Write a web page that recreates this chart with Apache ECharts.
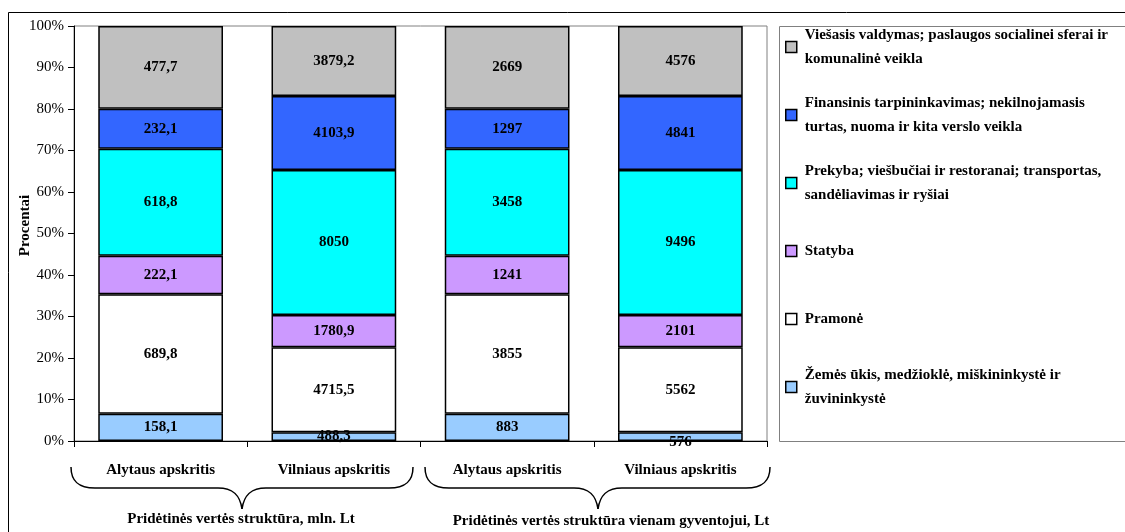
<!DOCTYPE html>
<html><head><meta charset="utf-8">
<script src="https://cdn.jsdelivr.net/npm/echarts@6.0.0/dist/echarts.min.js"></script>
<style>html,body{margin:0;padding:0;background:#fff}#c{width:1125px;height:532px}</style>
</head><body><div id="c"></div>
<script>
const categories = ['Alytaus apskritis', 'Vilniaus apskritis', 'Alytaus apskritis', 'Vilniaus apskritis'];
const groupLabels = ['Pridėtinės vertės struktūra, mln. Lt', 'Pridėtinės vertės struktūra vienam gyventojui, Lt'];
const seriesNames = [
  'Žemės ūkis, medžioklė, miškininkystė ir\nžuvininkystė',
  'Pramonė',
  'Statyba',
  'Prekyba; viešbučiai ir restoranai; transportas,\nsandėliavimas ir ryšiai',
  'Finansinis tarpininkavimas; nekilnojamasis\nturtas, nuoma ir kita verslo veikla',
  'Viešasis valdymas; paslaugos socialinei sferai ir\nkomunalinė veikla'
];
const zemes = [158.1, 488.3, 883, 576];
const pramone = [689.8, 4715.5, 3855, 5562];
const statyba = [222.1, 1780.9, 1241, 2101];
const prekyba = [618.8, 8050, 3458, 9496];
const finansinis = [232.1, 4103.9, 1297, 4841];
const viesasis = [477.7, 3879.2, 2669, 4576];
const yAxisName = 'Procentai';
const seriesValues = [zemes, pramone, statyba, prekyba, finansinis, viesasis];
const colors = ['#99CCFF', '#FFFFFF', '#CC99FF', '#00FFFF', '#3366FF', '#C0C0C0'];

const FONT = 'Liberation Serif';
const FS = 15;
const totals = categories.map((_, i) => seriesValues.reduce((s, arr) => s + arr[i], 0));

const series = seriesValues.map((arr, si) => ({
  name: seriesNames[si],
  type: 'bar',
  stack: 'total',
  barWidth: '72%',
  itemStyle: { color: colors[si], borderColor: '#000', borderWidth: 1.5 },
  label: {
    show: true, position: 'inside', color: '#000',
    fontFamily: FONT, fontWeight: 'bold', fontSize: FS,
    formatter: p => String(arr[p.dataIndex]).replace('.', ',')
  },
  data: arr.map((v, i) => {
    const item = { value: v / totals[i] * 100 };
    if (si === 0 && i === 3) item.label = { offset: [0, 6] };
    return item;
  })
}));

const legendData = seriesNames.slice().reverse().map(n => ({
  name: n,
  textStyle: n.indexOf('\n') >= 0 ? { padding: [24, 0, 0, 3] } : { padding: [24, 0, 24, 3] }
}));

// decorative curly brace built from curve and line pieces
function brace(x0, x1, tipX, yTop, yMid, yTip) {
  const st = { fill: 'none', stroke: '#000', lineWidth: 1.5 };
  const r = 24;
  return {
    type: 'group', silent: true, children: [
      { type: 'bezierCurve', shape: { x1: x0, y1: yTop, cpx1: x0, cpy1: yMid - 7, cpx2: x0 + 7, cpy2: yMid, x2: x0 + r, y2: yMid }, style: st },
      { type: 'line', shape: { x1: x0 + r, y1: yMid, x2: tipX - r, y2: yMid }, style: st },
      { type: 'bezierCurve', shape: { x1: tipX - r, y1: yMid, cpx1: tipX - 9, cpy1: yMid, cpx2: tipX - 2, cpy2: yMid + 7, x2: tipX, y2: yTip }, style: st },
      { type: 'bezierCurve', shape: { x1: tipX, y1: yTip, cpx1: tipX + 2, cpy1: yMid + 7, cpx2: tipX + 9, cpy2: yMid, x2: tipX + r, y2: yMid }, style: st },
      { type: 'line', shape: { x1: tipX + r, y1: yMid, x2: x1 - r, y2: yMid }, style: st },
      { type: 'bezierCurve', shape: { x1: x1 - r, y1: yMid, cpx1: x1 - 7, cpy1: yMid, cpx2: x1, cpy2: yMid - 7, x2: x1, y2: yTop }, style: st }
    ]
  };
}

const chart = echarts.init(document.getElementById('c'));
chart.setOption({
  animation: false,
  backgroundColor: '#fff',
  grid: { left: 74, right: 358, top: 26, bottom: 91, show: true, borderColor: '#808080', borderWidth: 1, outerBoundsMode: 'none' },
  legend: {
    orient: 'vertical', left: 785, top: 11, padding: 0, itemGap: -4,
    icon: 'rect', itemWidth: 11, itemHeight: 11,
    itemStyle: { borderColor: '#000', borderWidth: 1.5 },
    textStyle: { fontFamily: FONT, fontWeight: 'bold', fontSize: FS, color: '#000', lineHeight: 24 },
    data: legendData
  },
  xAxis: {
    type: 'category', data: categories,
    axisLine: { lineStyle: { color: '#000', width: 1 } },
    axisTick: { show: true, length: 6, lineStyle: { color: '#000' } },
    axisLabel: { margin: 22, fontFamily: FONT, fontWeight: 'bold', fontSize: FS, color: '#000' }
  },
  yAxis: {
    type: 'value', min: 0, max: 100, interval: 10,
    name: yAxisName, nameLocation: 'middle', nameGap: 41, nameMoveOverlap: false,
    nameTextStyle: { fontFamily: FONT, fontWeight: 'bold', fontSize: FS, color: '#000', padding: [0, 0, 0, 16] },
    axisLine: { show: true, lineStyle: { color: '#000', width: 1 } },
    axisTick: { show: true, length: 6, lineStyle: { color: '#000' } },
    splitLine: { show: false },
    axisLabel: { margin: 10, formatter: '{value}%', fontFamily: FONT, fontSize: FS, color: '#000' }
  },
  graphic: [
    { type: 'rect', shape: { x: 8.5, y: 12.5, width: 1300, height: 700 }, style: { fill: 'none', stroke: '#000', lineWidth: 1 }, silent: true, z: -10 },
    { type: 'rect', shape: { x: 779.5, y: 26.5, width: 400, height: 415 }, style: { fill: 'none', stroke: '#808080', lineWidth: 1 }, silent: true },
    brace(71, 413, 242, 467, 488, 509),
    brace(425, 770, 598, 467, 488, 509),
    { type: 'text', x: 241, y: 519, style: { text: groupLabels[0], fontFamily: FONT, fontWeight: 'bold', fontSize: FS, fill: '#000', align: 'center', verticalAlign: 'middle' }, silent: true },
    { type: 'text', x: 611, y: 521, style: { text: groupLabels[1], fontFamily: FONT, fontWeight: 'bold', fontSize: FS, fill: '#000', align: 'center', verticalAlign: 'middle' }, silent: true }
  ],
  series: series
});
</script></body></html>
